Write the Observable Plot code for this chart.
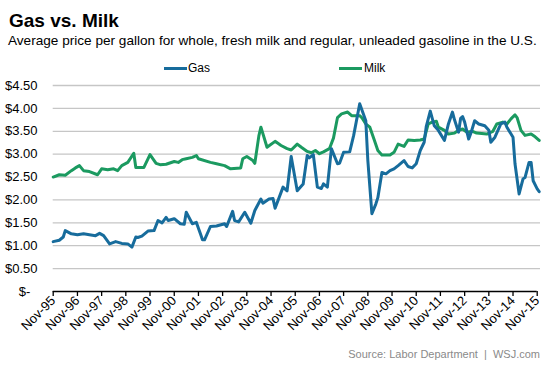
<!DOCTYPE html>
<html>
<head>
<meta charset="utf-8">
<script src="https://cdn.jsdelivr.net/npm/d3@7"></script>
<script src="https://cdn.jsdelivr.net/npm/@observablehq/plot@0.6"></script>
<style>
  html, body { margin: 0; padding: 0; background: #fff; }
  #wrap { position: relative; width: 553px; height: 369px; overflow: hidden; font-family: "Liberation Sans", Arial, sans-serif; color: #000; }
  .abs { position: absolute; white-space: nowrap; }
  #title { left: 9px; top: 10.5px; font-size: 19px; line-height: 19px; font-weight: bold; }
  #subtitle { left: 8px; top: 34px; font-size: 13.6px; line-height: 13.6px; }
  .legline { position: absolute; height: 3px; top: 66.5px; width: 23px; }
  .legtext { position: absolute; top: 62px; font-size: 12px; line-height: 12px; }
  #source { right: 13px; top: 349px; font-size: 11px; line-height: 11px; color: #8a8a8a; }
  #chart { position: absolute; left: 0; top: 78px; }
</style>
</head>
<body>
<div id="wrap">
  <div id="title" class="abs">Gas vs. Milk</div>
  <div id="subtitle" class="abs">Average price per gallon for whole, fresh milk and regular, unleaded gasoline in the U.S.</div>
  <div class="legline" style="left:164px;background:#176c9c"></div>
  <div class="legtext" style="left:188px">Gas</div>
  <div class="legline" style="left:339px;background:#1b9a60"></div>
  <div class="legtext" style="left:364px">Milk</div>
  <div id="chart"></div>
  <div id="source" class="abs">Source: Labor Department&nbsp; |&nbsp; WSJ.com</div>
</div>
<script>
// ---- data ----
const tickLabels = ["Nov-95","Nov-96","Nov-97","Nov-98","Nov-99","Nov-00","Nov-01","Nov-02","Nov-03","Nov-04","Nov-05","Nov-06","Nov-07","Nov-08","Nov-09","Nov-10","Nov-11","Nov-12","Nov-13","Nov-14","Nov-15"];
const yTicks = [0, 0.5, 1, 1.5, 2, 2.5, 3, 3.5, 4, 4.5];

const gasDates = ["1995-11","1996-02","1996-04","1996-05","1996-08","1996-11","1997-02","1997-05","1997-08","1997-10","1997-12","1998-03","1998-06","1998-09","1998-12","1999-02","1999-04","1999-05","1999-07","1999-10","2000-01","2000-03","2000-05","2000-07","2000-08","2000-11","2001-02","2001-04","2001-05","2001-08","2001-10","2001-12","2002-01","2002-02","2002-05","2002-08","2002-12","2003-01","2003-04","2003-05","2003-07","2003-10","2004-01","2004-03","2004-06","2004-07","2004-10","2004-12","2005-01","2005-05","2005-07","2005-09","2005-12","2006-03","2006-05","2006-06","2006-08","2006-10","2006-12","2007-01","2007-03","2007-05","2007-08","2007-09","2007-11","2008-02","2008-04","2008-07","2008-10","2008-11","2009-01","2009-03","2009-04","2009-06","2009-08","2009-10","2009-12","2010-02","2010-05","2010-07","2010-09","2010-11","2011-01","2011-03","2011-04","2011-06","2011-08","2011-10","2012-01","2012-03","2012-05","2012-06","2012-08","2012-09","2012-10","2012-11","2013-01","2013-02","2013-04","2013-06","2013-09","2013-11","2013-12","2014-02","2014-05","2014-07","2014-08","2014-11","2014-12","2015-02","2015-04","2015-05","2015-07","2015-08","2015-09","2015-11","2015-12"];
const gasPrices = [1.09,1.12,1.19,1.33,1.26,1.24,1.26,1.24,1.22,1.27,1.22,1.04,1.09,1.05,1.04,0.97,1.19,1.18,1.21,1.32,1.33,1.55,1.50,1.62,1.55,1.59,1.48,1.47,1.73,1.48,1.51,1.26,1.13,1.13,1.42,1.43,1.48,1.42,1.75,1.55,1.52,1.73,1.49,1.77,2.02,1.93,2.02,2.03,1.82,2.28,2.20,2.95,2.20,2.35,2.97,2.92,2.99,2.28,2.25,2.35,2.28,3.12,2.79,2.80,3.04,3.05,3.41,4.10,3.73,2.86,1.70,1.91,2.05,2.60,2.57,2.64,2.68,2.75,2.86,2.73,2.70,2.79,3.08,3.26,3.60,3.94,3.62,3.52,3.30,3.66,3.92,3.75,3.48,3.78,3.82,3.70,3.33,3.45,3.73,3.66,3.62,3.52,3.26,3.37,3.66,3.70,3.59,3.37,2.79,2.13,2.46,2.49,2.82,2.82,2.42,2.24,2.18];

const milkDates = ["1995-11","1996-02","1996-05","1996-08","1996-10","1996-12","1997-02","1997-05","1997-09","1997-11","1998-02","1998-05","1998-07","1998-09","1998-12","1999-03","1999-04","1999-08","1999-11","2000-02","2000-04","2000-07","2000-11","2001-01","2001-03","2001-05","2001-08","2001-10","2001-11","2002-05","2002-08","2002-12","2003-03","2003-08","2003-09","2003-11","2004-02","2004-03","2004-05","2004-06","2004-09","2005-01","2005-04","2005-07","2005-09","2005-12","2006-02","2006-05","2006-07","2006-09","2006-11","2007-01","2007-04","2007-06","2007-08","2007-10","2008-01","2008-03","2008-07","2008-08","2008-10","2008-12","2009-02","2009-04","2009-06","2009-10","2009-12","2010-02","2010-05","2010-07","2010-10","2011-01","2011-03","2011-05","2011-07","2011-09","2011-10","2012-01","2012-03","2012-06","2012-08","2012-10","2012-12","2013-03","2013-05","2013-10","2014-01","2014-03","2014-06","2014-08","2014-10","2014-12","2015-01","2015-03","2015-05","2015-08","2015-10","2015-12"];
const milkPrices = [2.50,2.55,2.54,2.64,2.70,2.75,2.64,2.62,2.55,2.68,2.66,2.68,2.64,2.75,2.82,3.02,2.71,2.71,2.99,2.80,2.77,2.78,2.84,2.82,2.88,2.90,2.93,2.97,2.90,2.82,2.79,2.75,2.68,2.70,2.90,2.95,2.86,2.80,3.40,3.59,3.15,3.28,3.19,3.12,3.09,3.22,3.15,3.06,3.03,3.08,3.01,3.05,3.12,3.35,3.80,3.88,3.92,3.84,3.84,3.80,3.66,3.59,3.33,3.08,2.98,2.98,3.04,3.22,3.17,3.31,3.30,3.31,3.33,3.66,3.70,3.72,3.59,3.52,3.44,3.46,3.52,3.55,3.48,3.50,3.46,3.44,3.50,3.66,3.70,3.66,3.77,3.86,3.80,3.52,3.41,3.44,3.38,3.30];

// ---- build ----
const parseYM = d3.utcParse("%Y-%m");
const parseTick = d3.utcParse("%b-%y");
const tickDates = tickLabels.map(parseTick);
const gas = gasDates.map((d, i) => ({date: parseYM(d), price: gasPrices[i]}));
const milk = milkDates.map((d, i) => ({date: parseYM(d), price: milkPrices[i]}));

const GAS = "#176c9c", MILK = "#1b9a60";

const chart = Plot.plot({
  width: 553,
  height: 291,
  marginLeft: 52.7,
  marginRight: 13,
  marginTop: 7,
  marginBottom: 78,
  style: {fontFamily: "'Liberation Sans', Arial, sans-serif", fontSize: "13px", background: "transparent", color: "#000"},
  x: {type: "utc", domain: [tickDates[0], tickDates[tickDates.length - 1]], range: [52.7, 536.7]},
  y: {domain: [0, 4.5]},
  marks: [
    Plot.ruleY(yTicks.filter(v => v > 0), {stroke: "#c6c6c6", strokeWidth: 1.3, strokeOpacity: 1}),
    Plot.ruleY([0], {x1: tickDates[0], x2: tickDates[tickDates.length - 1], stroke: "#000", strokeWidth: 1.5}),
    Plot.axisY(yTicks, {
      tickSize: 0, tickPadding: 15.7, fontSize: 13, label: null,
      tickFormat: v => v === 0 ? "$-\u00a0\u00a0" : "$" + v.toFixed(2)
    }),
    Plot.axisX(tickDates, {
      tickSize: 5, tickPadding: 2, tickRotate: -45, fontSize: 13, label: null,
      stroke: "#000", strokeWidth: 1.3,
      tickFormat: d3.utcFormat("%b-%y")
    }),
    Plot.line(milk, {x: "date", y: "price", stroke: MILK, strokeWidth: 3, strokeLinejoin: "round"}),
    Plot.line(gas, {x: "date", y: "price", stroke: GAS, strokeWidth: 3, strokeLinejoin: "round"})
  ]
});
document.getElementById("chart").appendChild(chart);
</script>
</body>
</html>
